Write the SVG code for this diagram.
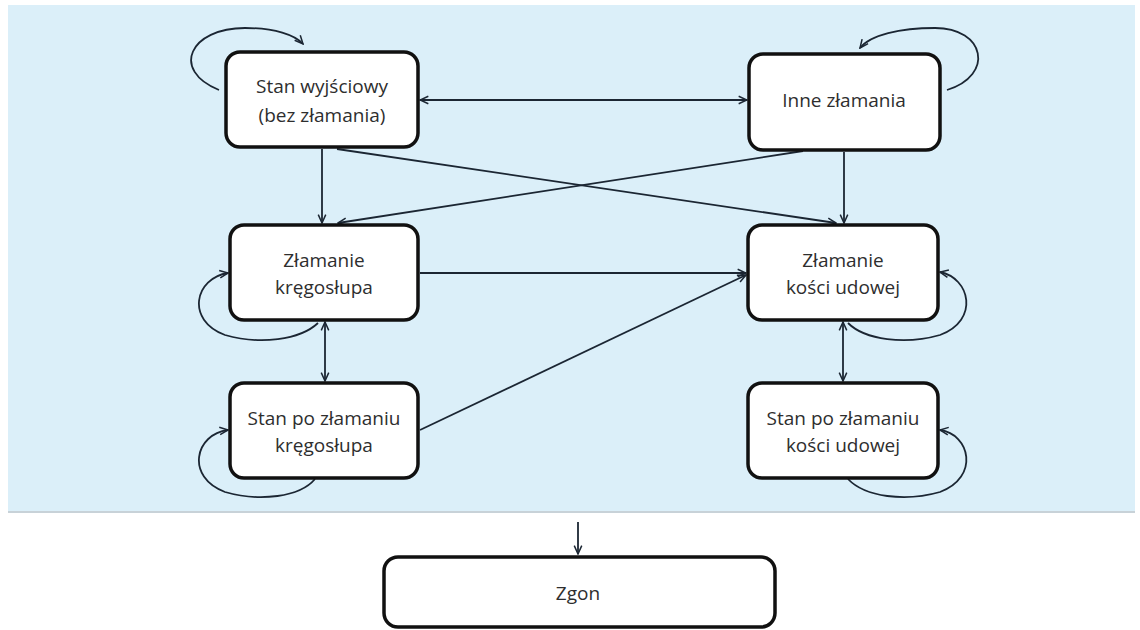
<svg xmlns="http://www.w3.org/2000/svg" width="1140" height="630" viewBox="0 0 1140 630">
<style>
.node rect{fill:#fff;stroke:#111;stroke-width:3.5}
.node text{font-family:"Open Sans","Noto Sans",sans-serif;font-size:19px;fill:#2e2e2e;text-anchor:middle}
.c path,.c line{fill:none;stroke:#1b2633;stroke-width:1.8}
</style>
<defs>
<marker id="a" viewBox="0 0 12 12" refX="11" refY="6" markerWidth="10" markerHeight="10" markerUnits="userSpaceOnUse" orient="auto-start-reverse">
<path d="M1,1.5 L11,6 L1,10.5" fill="none" stroke="#1b2633" stroke-width="1.8"/>
</marker>
</defs>
<rect x="0" y="0" width="1140" height="630" fill="#fff"/>
<rect x="8" y="5" width="1127" height="507" fill="#dbeff9"/>
<line x1="8" y1="512" x2="1135" y2="512" stroke="#c8d2d8" stroke-width="2"/>
<g class="c">
<line x1="420" y1="100" x2="747" y2="100" marker-start="url(#a)" marker-end="url(#a)"/>
<line x1="322" y1="149" x2="322" y2="223" marker-end="url(#a)"/>
<line x1="337" y1="149" x2="836" y2="223" marker-end="url(#a)"/>
<line x1="803" y1="151" x2="338" y2="223" marker-end="url(#a)"/>
<line x1="844" y1="152" x2="844" y2="223" marker-end="url(#a)"/>
<line x1="420" y1="273" x2="746" y2="273" marker-end="url(#a)"/>
<line x1="420" y1="430" x2="746" y2="275" marker-end="url(#a)"/>
<line x1="325" y1="322" x2="325" y2="381" marker-start="url(#a)" marker-end="url(#a)"/>
<line x1="843" y1="322" x2="843" y2="381" marker-start="url(#a)" marker-end="url(#a)"/>
<path d="M219,90 C170,70 190,28 245,28 C275,28 295,35 303,44" marker-end="url(#a)"/>
<path d="M947,90 C995,75 985,28 935,28 C900,28 870,35 860,48" marker-end="url(#a)"/>
<path d="M318,323 C300,340 260,345 225,335 C185,320 195,278 228,273" marker-end="url(#a)"/>
<path d="M315,479 C300,497 260,502 225,492 C185,477 195,434 228,430" marker-end="url(#a)"/>
<path d="M848,323 C865,340 905,345 940,335 C980,320 970,278 940,272" marker-end="url(#a)"/>
<path d="M848,479 C865,497 905,502 940,492 C980,477 970,434 940,430" marker-end="url(#a)"/>
<line x1="578" y1="522" x2="578" y2="554" marker-end="url(#a)"/>
</g>
<g id="n1" class="node"><rect x="226" y="52" width="192" height="95" rx="14"/><text x="322" y="93">Stan wyjściowy</text><text x="322" y="122">(bez złamania)</text></g>
<g id="n2" class="node"><rect x="749" y="54" width="191" height="96" rx="14"/><text x="844" y="107">Inne złamania</text></g>
<g id="n3" class="node"><rect x="230" y="225" width="188" height="95" rx="14"/><text x="324" y="267">Złamanie</text><text x="324" y="294">kręgosłupa</text></g>
<g id="n4" class="node"><rect x="748" y="225" width="190" height="95" rx="14"/><text x="843" y="267">Złamanie</text><text x="843" y="294">kości udowej</text></g>
<g id="n5" class="node"><rect x="230" y="383" width="188" height="95" rx="14"/><text x="324" y="425">Stan po złamaniu</text><text x="324" y="452">kręgosłupa</text></g>
<g id="n6" class="node"><rect x="748" y="383" width="190" height="95" rx="14"/><text x="843" y="425">Stan po złamaniu</text><text x="843" y="452">kości udowej</text></g>
<g id="n7" class="node"><rect x="384" y="557" width="391" height="70" rx="14"/><text x="578" y="600">Zgon</text></g>
</svg>
